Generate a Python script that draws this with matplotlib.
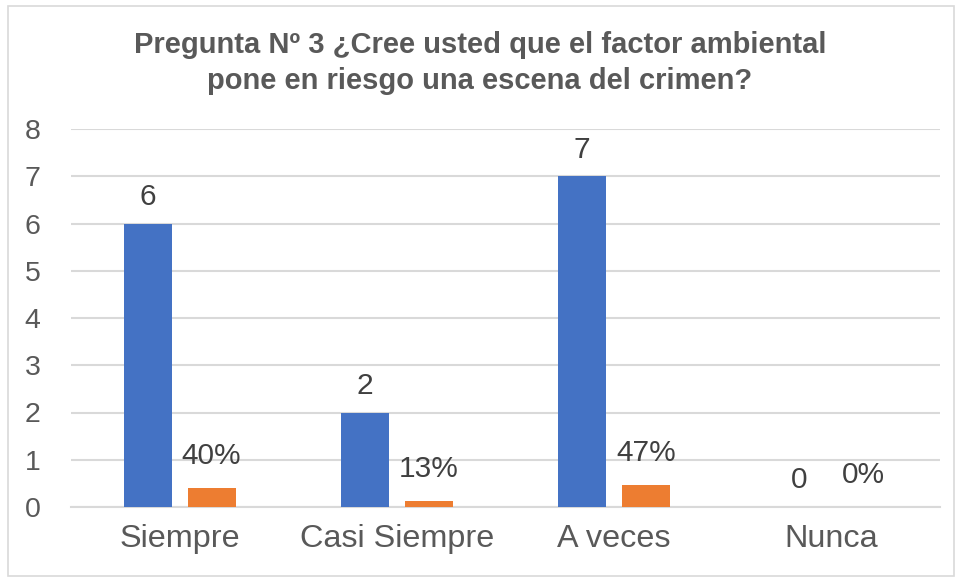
import matplotlib
matplotlib.use("Agg")
import matplotlib.pyplot as plt
from matplotlib.patches import Rectangle
import numpy as np

plt.rcParams['font.family'] = ['Liberation Sans', 'DejaVu Sans']

categories = ["Siempre", "Casi Siempre", "A veces", "Nunca"]
counts = [6, 2, 7, 0]
percents = [0.40, 0.13, 0.47, 0.0]
count_labels = ["6", "2", "7", "0"]
percent_labels = ["40%", "13%", "47%", "0%"]
yticks = [0, 1, 2, 3, 4, 5, 6, 7, 8]
title = "Pregunta Nº 3 ¿Cree usted que el factor ambiental\npone en riesgo una escena del crimen?"

blue = "#4472C4"
orange = "#ED7D31"
grid_c = "#D9D9D9"
text_c = "#595959"
label_c = "#404040"

fig = plt.figure(figsize=(9.6, 5.8), dpi=100)
ax = fig.add_axes([71/960, 1-507/580, 869/960, 378/580])

x = np.arange(len(categories))
w = 0.221
off = 0.147
b1 = ax.bar(x - off, counts, w, color=blue, zorder=3)
b2 = ax.bar(x + off, percents, w, color=orange, zorder=3)

for rect, lab in zip(b1, count_labels):
    ax.annotate(lab, (rect.get_x() + rect.get_width()/2, rect.get_height()),
                xytext=(0, 9), textcoords="offset points", ha="center", va="bottom",
                fontsize=21.5, color=label_c)
for rect, lab in zip(b2, percent_labels):
    ax.annotate(lab, (rect.get_x() + rect.get_width()/2, rect.get_height()),
                xytext=(0, 13), textcoords="offset points", ha="center", va="bottom",
                fontsize=21.5, color=label_c)

ax.set_xlim(-0.5, len(categories) - 0.5)
ax.set_ylim(0, 8)
ax.set_yticks(yticks)
ax.set_yticklabels([str(t) for t in yticks], fontsize=20.5, color=text_c)
ax.set_xticks(x)
ax.set_xticklabels(categories, fontsize=23.3, color=text_c)
ax.tick_params(axis='both', length=0)
ax.tick_params(axis='x', pad=12)
ax.tick_params(axis='y', pad=22)
ax.yaxis.grid(True, color=grid_c, linewidth=1.5, zorder=0)
ax.set_axisbelow(True)
for s in ["top", "right", "left"]:
    ax.spines[s].set_visible(False)
ax.spines["bottom"].set_color(grid_c)
ax.spines["bottom"].set_linewidth(1.5)

fig.text(0.5, 1-63/580, title, ha="center", va="center", fontsize=21,
         fontweight="bold", color=text_c, linespacing=1.32)

fig.patches.append(Rectangle((8/960, 4/580), 946/960, 570/580, transform=fig.transFigure,
                             fill=False, edgecolor="#D9D9D9", linewidth=1.2))

fig.savefig("out.png", dpi=100, facecolor="white")
